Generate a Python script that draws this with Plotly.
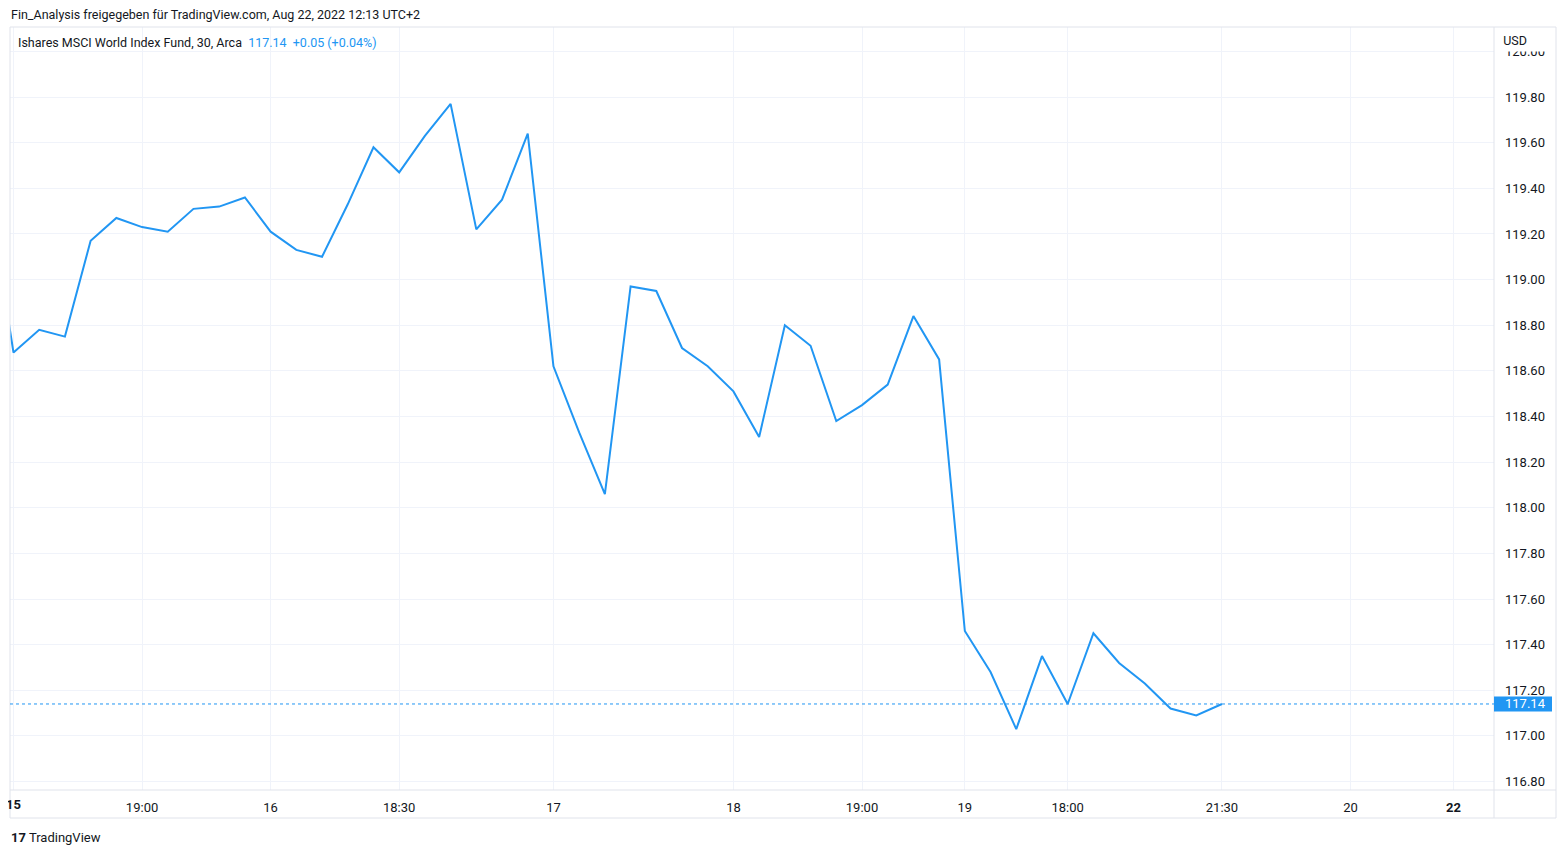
import plotly.graph_objects as go

# ---- data ----
bar_index = list(range(-1, 48))
close_prices = [119.40,
    118.68, 118.78, 118.75, 119.17, 119.27, 119.23, 119.21, 119.31, 119.32, 119.36,
    119.21, 119.13, 119.10, 119.33, 119.58, 119.47, 119.63, 119.77, 119.22, 119.35,
    119.64, 118.62, 118.33, 118.06, 118.97, 118.95, 118.70, 118.62, 118.51, 118.31,
    118.80, 118.71, 118.38, 118.45, 118.54, 118.84, 118.65, 117.46, 117.28, 117.03,
    117.35, 117.14, 117.45, 117.32, 117.23, 117.12, 117.09, 117.14]
x_tick_pos = [0, 5, 10, 15, 21, 28, 33, 37, 41, 47, 52, 56]
x_tick_text = ["<b>15</b>", "19:00", "16", "18:30", "17", "18", "19:00", "19",
               "18:00", "21:30", "20", "<b>22</b>"]
y_ticks = [116.8, 117.0, 117.2, 117.4, 117.6, 117.8, 118.0, 118.2, 118.4, 118.6,
           118.8, 119.0, 119.2, 119.4, 119.6, 119.8, 120.0]
last_price = 117.14
title_text = "Fin_Analysis freigegeben für TradingView.com, Aug 22, 2022 12:13 UTC+2"
legend_name = "Ishares MSCI World Index Fund, 30, Arca"
legend_vals = "117.14  +0.05 (+0.04%)"

BLUE = "#2196f3"
TXT = "#131722"
GRID = "#f0f3fa"
FRAME = "#e0e3eb"
FONT = "Roboto, Inter, sans-serif"

OFF = 8  # page body margin
W, H = 1566 - 2 * OFF, 854 - 2 * OFF
# page-pixel geometry of plot area
PL, PR, PT, PB = 10, 1494, 27, 790
L, T = PL - OFF, PT - OFF
R = W - (PR - OFF)
B = H - (PB - OFF)
pw, ph = PR - PL, PB - PT

def px_x(p):
    return (p - PL) / pw

def px_y(p):
    return (PB - p) / ph

fig = go.Figure()
fig.add_trace(go.Scatter(x=bar_index, y=close_prices, mode="lines",
                         line=dict(color=BLUE, width=2), hoverinfo="skip",
                         showlegend=False, cliponaxis=True))

fig.update_layout(
    width=W, height=H,
    margin=dict(l=L, r=R, t=T, b=B),
    paper_bgcolor="white", plot_bgcolor="white",
    font=dict(family=FONT, size=12.5, color=TXT),
    showlegend=False,
    xaxis=dict(range=[-0.136, 57.58], tickmode="array", tickvals=x_tick_pos,
               ticktext=x_tick_text, showgrid=True, gridcolor=GRID, gridwidth=1,
               zeroline=False, showline=False, ticks="", ticklabelstandoff=8,
               tickfont=dict(size=13, color=TXT)),
    yaxis=dict(side="right", range=[116.763, 120.107], tickmode="array",
               tickvals=y_ticks, ticktext=[f"{v:.2f}" for v in y_ticks],
               showgrid=True, gridcolor=GRID, gridwidth=1, zeroline=False,
               showline=False, ticks="", ticklabelstandoff=10,
               tickfont=dict(size=13, color=TXT)),
)

shapes = []
line_kw = dict(color=FRAME, width=1)
# frame
shapes.append(dict(type="line", xref="paper", yref="paper", x0=0, x1=0,
                   y0=px_y(818), y1=1, line=line_kw))
shapes.append(dict(type="line", xref="paper", yref="paper", x0=0, x1=px_x(1556),
                   y0=1, y1=1, line=line_kw))
shapes.append(dict(type="line", xref="paper", yref="paper", x0=px_x(1556), x1=px_x(1556),
                   y0=px_y(818), y1=1, line=line_kw))
shapes.append(dict(type="line", xref="paper", yref="paper", x0=0, x1=px_x(1556),
                   y0=px_y(818), y1=px_y(818), line=line_kw))
shapes.append(dict(type="line", xref="paper", yref="paper", x0=1, x1=1,
                   y0=px_y(818), y1=1, line=line_kw))
shapes.append(dict(type="line", xref="paper", yref="paper", x0=0, x1=px_x(1556),
                   y0=0, y1=0, line=line_kw))
# last price dotted line
shapes.append(dict(type="line", xref="paper", yref="y", x0=0, x1=1,
                   y0=last_price, y1=last_price, line=dict(color=BLUE, width=1, dash="dot")))
# price label box
shapes.append(dict(type="rect", xref="paper", yref="y", x0=1, x1=px_x(1552),
                   y0=last_price - 7.5 / 228.2, y1=last_price + 7.5 / 228.2,
                   fillcolor=BLUE, line=dict(width=0)))
fig.update_layout(shapes=shapes)

ann = []
ann.append(dict(xref="paper", yref="paper", x=px_x(9), y=px_y(15), xanchor="left",
                yanchor="middle", showarrow=False, text=title_text,
                font=dict(size=12.5, color=TXT)))
ann.append(dict(xref="paper", yref="paper", x=px_x(16), y=px_y(42), xanchor="left",
                yanchor="middle", showarrow=False,
                text=f"{legend_name}  <span style='color:{BLUE}'>{legend_vals}</span>",
                font=dict(size=12.5, color=TXT)))
ann.append(dict(xref="paper", yref="y", x=px_x(1503), y=last_price, xanchor="left",
                yanchor="middle", showarrow=False, text=f"{last_price:.2f}",
                font=dict(size=13, color="white")))
ann.append(dict(xref="paper", yref="paper", x=px_x(1496), y=px_y(29), xanchor="left",
                yanchor="top", showarrow=False, text="&nbsp;&nbsp;USD", bgcolor="white",
                borderpad=0, width=56, height=21, align="left", valign="middle",
                font=dict(size=12.5, color=TXT)))
# first day label, partially clipped at the left edge like the reference
ann.append(dict(xref="x", yref="paper", x=x_tick_pos[0], y=px_y(805), xanchor="center",
                yanchor="middle", showarrow=False, text=x_tick_text[0],
                font=dict(size=13, color=TXT)))
ann.append(dict(xref="paper", yref="paper", x=px_x(9), y=px_y(837), xanchor="left",
                yanchor="middle", showarrow=False,
                text="<b>17</b> TradingView", font=dict(size=13, color=TXT)))
fig.update_layout(annotations=ann)

fig.write_html("out.html")
